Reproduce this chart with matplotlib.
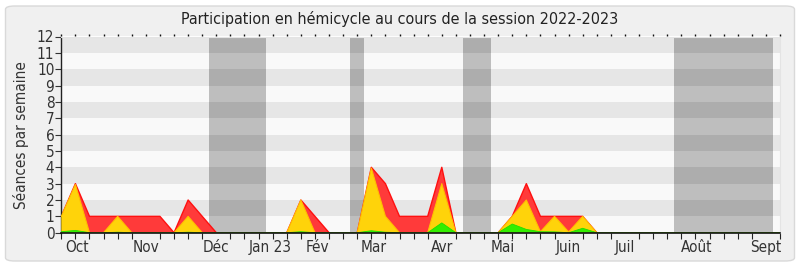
import matplotlib
matplotlib.use("Agg")
import matplotlib.pyplot as plt
from matplotlib.patches import FancyBboxPatch, Rectangle
import numpy as np

# Weekly counts over the parliamentary session (week 0 = end of September 2022)
seances = [1, 3, 1, 1, 1, 1, 1, 1, 0, 2, 1, 0, 0, 0, 0, 0, 0, 2, 1, 0,
           0, 0, 4, 3, 1, 1, 1, 4, 0, 0, 0, 0, 1, 3, 1, 1, 1, 1, 0, 0,
           0, 0, 0, 0, 0, 0, 0, 0, 0, 0, 0, 0]
presences = [1, 2.95, 0, 0, 1, 0, 0, 0, 0, 1, 0, 0, 0, 0, 0, 0, 0, 2, 0, 0,
             0, 0, 3.95, 1, 0, 0, 0, 3, 0, 0, 0, 0, 1, 2, 0.06, 1, 0.05, 1, 0, 0,
             0, 0, 0, 0, 0, 0, 0, 0, 0, 0, 0, 0]
interventions = [0.06, 0.14, 0, 0, 0.03, 0, 0, 0, 0, 0.03, 0, 0, 0, 0, 0, 0, 0, 0.06, 0, 0,
                 0, 0, 0.12, 0.03, 0, 0, 0, 0.6, 0, 0, 0, 0, 0.53, 0.2, 0.06, 0.05, 0, 0.27, 0, 0,
                 0, 0, 0, 0, 0, 0, 0, 0, 0, 0, 0, 0]

# Parliamentary breaks, in week units
vacances = [(10.5, 14.5), (20.5, 21.5), (28.5, 30.5), (43.5, 50.5)]

mois = ["Oct", "Nov", "Déc", "Jan 23", "Fév", "Mar", "Avr", "Mai", "Juin", "Juil", "Août", "Sept"]
mois_pos = [1.1, 6.0, 11.0, 14.8, 18.2, 22.2, 27.0, 31.3, 36.0, 40.0, 45.05, 50.0]

plt.rcParams["font.family"] = ["DejaVu Sans"]
plt.rcParams["font.stretch"] = "condensed"

fig = plt.figure(figsize=(8.0, 2.67), dpi=100)
fig.patch.set_facecolor("white")

# Rounded panel behind the chart
panel = FancyBboxPatch((5.5 / 800, 6 / 267), (789 / 800), (255 / 267),
                       boxstyle="round,pad=0,rounding_size=0.012",
                       transform=fig.transFigure, facecolor="#f0f0f0",
                       edgecolor="#d9d9d9", linewidth=1.0, zorder=-5)
fig.patches.append(panel)

ax = fig.add_axes([61.3 / 800, 1 - 232.7 / 267, (780 - 61.3) / 800, (232.7 - 36.5) / 267])
ax.set_zorder(2)
ax.set_facecolor("#f9f9f9")
weeks = np.arange(len(seances))
n_max = 12
ax.set_xlim(0, len(seances) - 1)
ax.set_ylim(0, n_max)

# Horizontal stripes
for y0 in range(1, n_max, 2):
    ax.axhspan(y0, y0 + 1, color="#e6e6e6", lw=0, zorder=0.5)

# Break periods
for a, b in vacances:
    ax.add_patch(Rectangle((a, 0), b - a, n_max, facecolor="#bebebe", lw=0, zorder=0.6))
    for y0 in range(1, n_max, 2):
        ax.add_patch(Rectangle((a, y0), b - a, 1, facecolor="#adadad", lw=0, zorder=0.7))

# Overlaid areas
ax.fill_between(weeks, 0, seances, facecolor="#ff3a3a", lw=0, zorder=2)
ax.plot(weeks, seances, color="#ff1010", lw=1.0, zorder=2.1)
ax.fill_between(weeks, 0, presences, facecolor="#ffd30a", lw=0, zorder=3)
ax.plot(weeks, presences, color="#ffc000", lw=0.8, zorder=3.1)
ax.fill_between(weeks, 0, interventions, facecolor="#33ee00", lw=0, zorder=4)
ax.plot(weeks, interventions, color="#22dd00", lw=0.6, zorder=4.1)

# Axes styling
for side in ["top", "right"]:
    ax.spines[side].set_color("#e4e4e4")
    ax.spines[side].set_linewidth(0.8)
ax.spines["left"].set_color("#222222")
ax.spines["bottom"].set_color("#111111")
ax.spines["left"].set_linewidth(1.0)
ax.spines["bottom"].set_linewidth(1.2)
ax.spines["bottom"].set_zorder(5)

ax.set_yticks(range(0, n_max + 1))
ax.tick_params(axis="y", direction="out", length=4, width=0.8, color="#333333",
               labelsize=11, labelcolor="#333333", pad=1)
ax.set_xticks(weeks, minor=True)
ax.set_xticks(mois_pos)
ax.set_xticklabels(mois)
ax.tick_params(axis="x", which="major", length=0, labelsize=11, labelcolor="#333333", pad=5)
ax.tick_params(axis="x", which="minor", direction="out", length=4, width=0.8, color="#222222")

# Small week marks along the top edge
top = ax.secondary_xaxis("top")
top.set_xticks(weeks, minor=True)
top.set_xticks([])
top.tick_params(which="minor", direction="out", length=1.2, width=1.0, color="#111111")
top.spines["top"].set_visible(False)

ax.set_ylabel("Séances par semaine", fontsize=11, color="#333333", labelpad=6)
fig.text(0.5, 1 - 19 / 267, "Participation en hémicycle au cours de la session 2022-2023",
         ha="center", va="center", fontsize=11.5, color="#222222")

fig.savefig("out.png", dpi=100, facecolor=fig.get_facecolor())
